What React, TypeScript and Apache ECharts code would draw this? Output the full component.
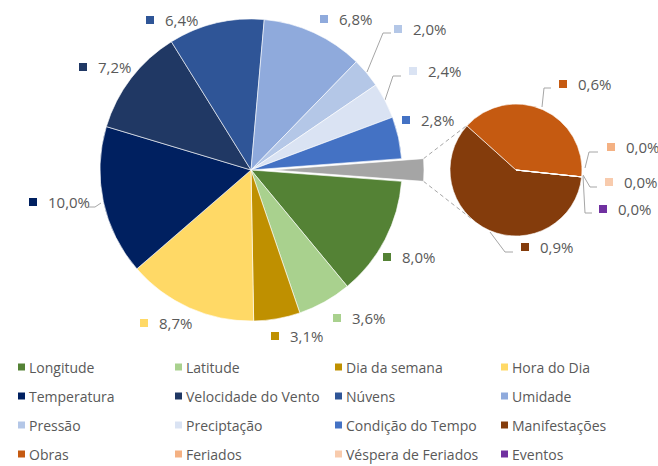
import React, { useEffect, useRef } from 'react';
import * as echarts from 'echarts';

// ---- data ----
const subNames = ['Manifestações', 'Obras', 'Feriados', 'Véspera de Feriados', 'Eventos'];
const subValues = [0.9, 0.6, 0.0, 0.0, 0.0];
const subColors = ['#843C0C', '#C55A11', '#F4B183', '#F8CBAD', '#7030A0'];

const mainNames = ['Outros', 'Longitude', 'Latitude', 'Dia da semana', 'Hora do Dia', 'Temperatura', 'Velocidade do Vento', 'Núvens', 'Umidade', 'Pressão', 'Preciptação', 'Condição do Tempo'];
const mainValues = [subValues.reduce((a, b) => a + b, 0), 8.0, 3.6, 3.1, 8.7, 10.0, 7.2, 6.4, 6.8, 2.0, 2.4, 2.8];
const mainColors = ['#A5A5A5', '#548235', '#A9D18E', '#BF9000', '#FFD966', '#002060', '#203864', '#2F5597', '#8FAADC', '#B4C7E7', '#DAE3F3', '#4472C4'];

const legendColumns = [
  ['Longitude', 'Temperatura', 'Pressão', 'Obras'],
  ['Latitude', 'Velocidade do Vento', 'Preciptação', 'Feriados'],
  ['Dia da semana', 'Núvens', 'Condição do Tempo', 'Véspera de Feriados'],
  ['Hora do Dia', 'Umidade', 'Manifestações', 'Eventos'],
];

// ---- layout / style ----
const MAIN_C = [251, 170];
const MAIN_R = 151;
const EXPLODE = 22;
const SUB_C = [516, 170];
const SUB_R = 66;
const SUB_START = -6;
const FONT = 'Open Sans';
const TEXT = '#595959';
const LINE = '#A6A6A6';

const mainLabelPos: (number[] | null)[] = [null, [383, 257], [333, 318], [271, 336], [140, 323], [29, 202], [79, 67], [146, 20], [320, 19], [394, 29], [409, 71], [402, 120]];
const mainLabelLines: (number[][] | null)[] = [null, null, null, null, null, [[88, 207], [95, 207], [101, 203]], null, null, null, [[367, 72], [383, 33], [391, 33]], [[385, 100], [393, 76], [401, 76]], null];
const subLabelPos = [[521, 247], [559, 84], [607, 147], [605, 182], [599, 209]];
const subLabelLines = [
  [[490, 232], [505, 252], [513, 252]],
  [[542, 107], [544, 88], [551, 88]],
  [[585, 168], [589, 152], [598, 152]],
  [[583, 175], [590, 187], [597, 187]],
  [[583, 176], [585, 213], [592, 213]],
];

const pct = (v: number) => v.toFixed(1).replace('.', ',') + '%';

export default function App() {
  const ref = useRef<HTMLDivElement>(null);
  useEffect(() => {
    if (!ref.current) return;
    const chart = echarts.init(ref.current, null, { renderer: 'svg' });

    const total = mainValues.reduce((a, b) => a + b, 0);
    const halfOther = (mainValues[0] / total) * 180;

    const mainRich: any = { t: { padding: [0, 0, 0, 11], fontSize: 15, color: TEXT, fontFamily: FONT } };
    mainColors.forEach((c, i) => (mainRich['m' + i] = { width: 8, height: 8, backgroundColor: c }));
    const subRich: any = { t: { padding: [0, 0, 0, 11], fontSize: 15, color: TEXT, fontFamily: FONT } };
    subColors.forEach((c, i) => (subRich['s' + i] = { width: 8, height: 8, backgroundColor: c }));

    const mainData = mainNames.map((n, i) => ({
      name: n,
      value: mainValues[i],
      selected: i === 0,
      itemStyle: { color: mainColors[i] },
      label: { show: i !== 0 },
      labelLine: { show: !!mainLabelLines[i] },
    }));
    const subData = subNames.map((n, i) => ({
      name: n,
      value: subValues[i],
      itemStyle: { color: subColors[i] },
    }));

    // connector endpoints
    const a = (halfOther * Math.PI) / 180;
    const tip = [MAIN_C[0] + EXPLODE, MAIN_C[1]];
    const upA = [tip[0] + MAIN_R * Math.cos(a), tip[1] - MAIN_R * Math.sin(a)];
    const loA = [tip[0] + MAIN_R * Math.cos(a), tip[1] + MAIN_R * Math.sin(a)];
    const ang1 = (136 * Math.PI) / 180;
    const ang2 = (-132 * Math.PI) / 180;
    const upB = [SUB_C[0] + SUB_R * Math.cos(ang1), SUB_C[1] - SUB_R * Math.sin(ang1)];
    const loB = [SUB_C[0] + SUB_R * Math.cos(ang2), SUB_C[1] - SUB_R * Math.sin(ang2)];

    const legendX = [16, 173, 333, 499];

    chart.setOption({
      animation: false,
      backgroundColor: '#ffffff',
      legend: legendColumns.map((col, ci) => ({
        data: col,
        orient: 'vertical',
        left: legendX[ci],
        top: 359,
        height: 110,
        padding: 0,
        itemWidth: 9,
        itemHeight: 9,
        itemGap: 13,
        icon: 'rect',
        selectedMode: false,
        textStyle: { color: TEXT, fontSize: 14, fontFamily: FONT, lineHeight: 16, padding: [0, 0, 0, -2] },
      })),
      graphic: [
        { type: 'line', shape: { x1: upA[0], y1: upA[1], x2: upB[0], y2: upB[1] }, style: { stroke: LINE, lineWidth: 1, lineDash: [4, 3] } },
        { type: 'line', shape: { x1: loA[0], y1: loA[1], x2: loB[0], y2: loB[1] }, style: { stroke: LINE, lineWidth: 1, lineDash: [4, 3] } },
      ],
      series: [
        {
          type: 'pie',
          center: MAIN_C,
          radius: MAIN_R,
          startAngle: halfOther,
          clockwise: true,
          selectedMode: 'single',
          selectedOffset: EXPLODE,
          avoidLabelOverlap: false,
          emphasis: { disabled: true },
          itemStyle: { borderColor: '#ffffff', borderWidth: 0.6 },
          label: {
            show: true,
            position: 'outside',
            formatter: (p: any) => `{m${p.dataIndex}|}{t|${pct(p.value)}}`,
            rich: mainRich,
          },
          labelLine: { show: true, lineStyle: { color: LINE, width: 1 } },
          labelLayout: (p: any) => {
            const pos = mainLabelPos[p.dataIndex];
            if (!pos) return {};
            const o: any = { x: pos[0], y: pos[1], align: 'left', verticalAlign: 'middle' };
            const ln = mainLabelLines[p.dataIndex];
            if (ln) o.labelLinePoints = ln;
            return o;
          },
          data: mainData,
        },
        {
          type: 'pie',
          center: SUB_C,
          radius: SUB_R,
          startAngle: SUB_START,
          clockwise: true,
          avoidLabelOverlap: false,
          emphasis: { disabled: true },
          itemStyle: { borderColor: '#ffffff', borderWidth: 0.6 },
          label: {
            show: true,
            position: 'outside',
            formatter: (p: any) => `{s${p.dataIndex}|}{t|${pct(p.value)}}`,
            rich: subRich,
          },
          labelLine: { show: true, lineStyle: { color: LINE, width: 1 } },
          labelLayout: (p: any) => {
            const pos = subLabelPos[p.dataIndex];
            return { x: pos[0], y: pos[1], align: 'left', verticalAlign: 'middle', labelLinePoints: subLabelLines[p.dataIndex] };
          },
          data: subData,
        },
      ],
    });
    return () => chart.dispose();
  }, []);
  return <div ref={ref} style={{ position: 'fixed', left: 0, top: 0, width: 658, height: 466 }} />;
}
